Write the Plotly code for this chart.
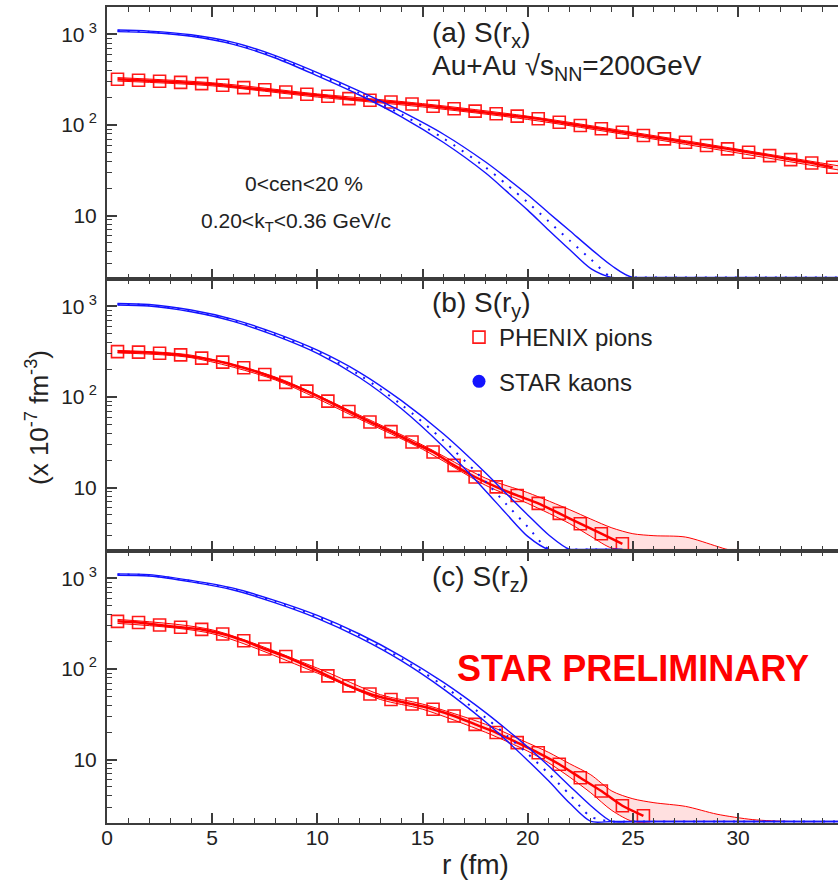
import numpy as np
import plotly.graph_objects as go

# ---------------------------------------------------------------- data
# radial bin centres (fm) of the pion source points
R_BINS = [0.5, 1.5, 2.5, 3.5, 4.5, 5.5, 6.5, 7.5, 8.5, 9.5, 10.5, 11.5, 12.5,
          13.5, 14.5, 15.5, 16.5, 17.5, 18.5, 19.5, 20.5, 21.5, 22.5, 23.5,
          24.5, 25.5, 26.5, 27.5, 28.5, 29.5, 30.5, 31.5, 32.5, 33.5, 34.5]

# PHENIX pions, S(r) in units of 1e-7 fm^-3
PION_A = [319, 311, 303, 295, 286, 274, 258, 245, 231, 218, 207, 195, 187,
          179, 170, 161, 151, 142, 133, 125, 117, 107, 98.6, 90.7, 83.2,
          76.5, 70.3, 64.5, 59.3, 54.5, 50.0, 45.9, 41.5, 38.1, 34.1]
PION_B = [316, 312, 304, 291, 268, 242, 210, 177, 145, 116, 90, 69, 53, 41.5,
          31.8, 24.7, 17.6, 13.1, 10.2, 8.2, 6.7, 5.2, 4.0, 3.1, 2.4]
PION_C = [335, 325, 305, 288, 273, 243, 205, 166, 137, 108, 84, 65, 53, 46,
          41, 36, 30.3, 24.5, 19.9, 15.4, 11.9, 8.9, 6.3, 4.5, 3.1, 2.4]

# pion error bands (lower / upper edge)
PB_A_R = [0.5, 5, 10, 15, 20, 25, 30, 34.75]
PB_A_LO = [305, 270, 203, 158, 115, 76, 49, 32]
PB_A_HI = [333, 292, 220, 172, 125, 83, 54, 35.5]

PB_B_R = [0.5, 4, 8, 12, 15, 18, 20, 22, 23, 24, 25, 26, 27.5, 29, 29.5, 30]
PB_B_LO = [306, 271, 154, 57, 26.5, 10.6, 6.7, 4.0, 2.9, 2.15, 1.6, 1.2, 0.8,
           0.5, 0.3, 0]
PB_B_HI = [326, 289, 166, 63, 29.5, 12.7, 8.8, 5.7, 4.5, 3.6, 3.1, 2.95, 2.85,
           2.25, 2.0, 1.5]

PB_C_R = [0.5, 5, 10, 13, 15, 18, 20, 21, 22, 23, 24, 25, 26, 27.5, 29, 30.7,
          32.5, 35]
PB_C_LO = [318, 245, 90, 46, 36, 20, 12.4, 9.2, 6.4, 4.3, 2.75, 1.8, 1.2, 0.8,
           0.5, 0.3, 0.2, 0]
PB_C_HI = [352, 270, 102, 52, 41, 24.5, 15.3, 12.0, 9.0, 6.8, 4.5, 3.7, 3.35,
           3.05, 2.5, 2.18, 2.0, 1.5]

# STAR kaons: central value and band edges
K_R_A = [0.5, 2, 4, 6, 8, 10, 12, 14, 16, 18, 19, 20, 21, 22, 23, 24, 25, 35]
K_A = [1094, 1066, 970, 794, 565, 362, 225, 131, 71, 34, 22, 14.0, 8.6, 5.3,
       3.3, 1.9, 1.1, 0]
K_A_LO = [1070, 1045, 950, 775, 548, 348, 214, 123, 64, 29.5, 18.5, 11.5, 6.9,
          4.2, 2.6, 1.5, 0.8, 0]
K_A_HI = [1115, 1085, 990, 815, 582, 378, 236, 141, 79, 39, 26, 17.0, 10.7,
          6.8, 4.3, 2.8, 1.7, 0]

K_R_B = [0.5, 2, 4, 6, 8, 10, 12, 14, 16, 18, 19, 20, 21, 22, 23, 24.5]
K_B = [1055, 1028, 890, 700, 490, 315, 175, 82, 33, 11.6, 6.5, 3.7, 2.1, 1.2,
       0.7, 0]
K_B_LO = [1035, 1008, 870, 682, 474, 302, 164, 74, 28, 9.2, 5.1, 2.9, 1.6,
          0.9, 0.5, 0]
K_B_HI = [1075, 1048, 910, 718, 506, 328, 187, 91, 39, 14.5, 8.5, 5.0, 3.0,
          1.8, 1.0, 0]

K_R_C = [0.5, 2, 4, 6, 8, 10, 12, 14, 16, 18, 19, 20, 21, 22, 23, 24, 25, 35]
K_C = [1100, 1078, 930, 760, 552, 375, 232, 130, 65, 29, 18.5, 11.6, 7.0, 4.1,
       2.35, 1.3, 0.7, 0]
K_C_LO = [1080, 1058, 912, 742, 536, 362, 222, 123, 60, 26, 16.2, 9.8, 5.8,
          3.3, 1.95, 1.0, 0.5, 0]
K_C_HI = [1120, 1098, 948, 778, 568, 390, 243, 138, 71, 33, 21.5, 13.8, 8.5,
          5.1, 3.1, 1.9, 1.1, 0]

Y_TICKS = [10, 100, 1000]
Y_TICKTEXT = ["10", "10<sup> 2</sup>", "10<sup> 3</sup>"]
X_TICKS = [0, 5, 10, 15, 20, 25, 30]

# ---------------------------------------------------------------- layout
W, H = 838, 881
ML, MR, MT, MB = 107, 0, 7, 58
Y_MIN, Y_MAX = 2.0, 2000.0
X_MAX = 34.75
FLOOR = Y_MIN * 1.04          # values that vanish are drawn along the axis

FONT = "Liberation Sans, Arial, Helvetica, sans-serif"
RED = "#ff0000"
BLUE = "#1414ff"
AXIS = "#3c3c3c"


def px_x(px):
    return (px - ML) / (W - ML - MR)


def px_y(py):
    return (H - MB - py) / (H - MT - MB)


def on_axis(vals):
    return [max(float(v), FLOOR) for v in vals]


panels = [
    dict(x="x", y="y", dom=[2 / 3, 1.0], pion=PION_A, pb=(PB_A_R, PB_A_LO, PB_A_HI),
         k=(K_R_A, K_A, K_A_LO, K_A_HI)),
    dict(x="x2", y="y2", dom=[1 / 3, 2 / 3], pion=PION_B, pb=(PB_B_R, PB_B_LO, PB_B_HI),
         k=(K_R_B, K_B, K_B_LO, K_B_HI)),
    dict(x="x3", y="y3", dom=[0.0, 1 / 3], pion=PION_C, pb=(PB_C_R, PB_C_LO, PB_C_HI),
         k=(K_R_C, K_C, K_C_LO, K_C_HI)),
]

fig = go.Figure()

for i, p in enumerate(panels):
    xa, ya = p["x"], p["y"]
    pr, plo, phi = p["pb"]
    # pion band
    fig.add_trace(go.Scatter(x=pr, y=on_axis(plo), xaxis=xa, yaxis=ya, mode="lines",
                             line=dict(color=RED, width=1, shape="spline", smoothing=0.8),
                             showlegend=False, hoverinfo="skip"))
    fig.add_trace(go.Scatter(x=pr, y=on_axis(phi), xaxis=xa, yaxis=ya, mode="lines",
                             fill="tonexty", fillcolor="rgba(255,0,0,0.12)",
                             line=dict(color=RED, width=1, shape="spline", smoothing=0.8),
                             showlegend=False, hoverinfo="skip"))
    # pion central curve and points
    n = len(p["pion"])
    fig.add_trace(go.Scatter(x=R_BINS[:n], y=p["pion"], xaxis=xa, yaxis=ya, mode="lines",
                             line=dict(color=RED, width=2.5, shape="spline", smoothing=0.6),
                             showlegend=False, hoverinfo="skip"))
    fig.add_trace(go.Scatter(x=R_BINS[:n], y=p["pion"], xaxis=xa, yaxis=ya, mode="markers",
                             marker=dict(symbol="square-open", size=12,
                                         color="rgba(255,0,0,0.9)",
                                         line=dict(width=1.6, color="rgba(255,0,0,0.9)")),
                             name="PHENIX pions", legendgroup="pi",
                             showlegend=(i == 1)))
    # kaon band and central curve
    kr, kc, klo, khi = p["k"]
    for edge in (klo, khi):
        fig.add_trace(go.Scatter(x=kr, y=on_axis(edge), xaxis=xa, yaxis=ya, mode="lines",
                                 line=dict(color=BLUE, width=1.4, shape="spline", smoothing=0.8),
                                 showlegend=False, hoverinfo="skip"))
    fig.add_trace(go.Scatter(x=kr, y=on_axis(kc), xaxis=xa, yaxis=ya, mode="lines",
                             line=dict(color=BLUE, width=2, dash="2px,8px",
                                       shape="spline", smoothing=0.8),
                             showlegend=False, hoverinfo="skip"))

# legend-only entry for the kaons
fig.add_trace(go.Scatter(x=[None], y=[None], xaxis="x2", yaxis="y2", mode="markers",
                         marker=dict(symbol="circle", size=13, color=BLUE),
                         name="STAR kaons", legendgroup="k"))

tickfont = dict(family=FONT, size=21, color="#222222")
minor_y = [2, 3, 4, 5, 6, 7, 8, 9, 20, 30, 40, 50, 60, 70, 80, 90,
           200, 300, 400, 500, 600, 700, 800, 900]

layout = dict(
    width=W, height=H,
    margin=dict(l=ML, r=MR, t=MT, b=MB, pad=0),
    paper_bgcolor="white", plot_bgcolor="white",
    font=dict(family=FONT, color="#222222"),
    showlegend=True,
    legend=dict(x=px_x(459), y=px_y(315), xanchor="left", yanchor="top",
                bgcolor="rgba(0,0,0,0)", tracegroupgap=10,
                font=dict(family=FONT, size=24, color="#222222")),
)

for i, p in enumerate(panels):
    xkey = "xaxis" if i == 0 else f"xaxis{i + 1}"
    ykey = "yaxis" if i == 0 else f"yaxis{i + 1}"
    layout[xkey] = dict(
        domain=[0, 1], anchor=p["y"], range=[0, X_MAX],
        tickvals=X_TICKS, ticks="inside", ticklen=10, tickwidth=1.5, tickcolor=AXIS,
        minor=dict(dtick=1, tick0=0, ticks="inside", ticklen=5, tickwidth=1.2,
                   tickcolor=AXIS, showgrid=False),
        showline=True, linewidth=2, linecolor=AXIS, mirror="ticks",
        showgrid=False, zeroline=False,
        showticklabels=(i == 2), tickfont=tickfont, ticklabelstandoff=-5,
    )
    if i != 2:
        layout[xkey]["matches"] = "x3"
    layout[ykey] = dict(
        domain=p["dom"], anchor=p["x"], type="log",
        range=[np.log10(Y_MIN), np.log10(Y_MAX)],
        tickvals=Y_TICKS, ticktext=Y_TICKTEXT,
        ticks="inside", ticklen=10, tickwidth=1.5, tickcolor=AXIS,
        minor=dict(tickvals=minor_y, ticks="inside", ticklen=5, tickwidth=1.2,
                   tickcolor=AXIS, showgrid=False),
        showline=True, linewidth=2, linecolor=AXIS, mirror=False,
        showgrid=False, zeroline=False, tickfont=tickfont, ticklabelstandoff=4,
    )

fig.update_layout(**layout)


def note(text, x, y, size, xanchor="left", color="#222222", bold=False, angle=0):
    fig.add_annotation(text=(f"<b>{text}</b>" if bold else text),
                       x=px_x(x), y=px_y(y), xref="paper", yref="paper",
                       xanchor=xanchor, yanchor="middle", showarrow=False,
                       textangle=angle,
                       font=dict(family=FONT, size=size, color=color))


note("(a) S(r<sub>x</sub>)", 430, 35, 28)
note("Au+Au \u221As<sub>NN</sub>=200GeV", 430, 68, 28)
note("(b) S(r<sub>y</sub>)", 430, 304, 28)
note("(c) S(r<sub>z</sub>)", 430, 578, 28)
note("0&lt;cen&lt;20 %", 304, 183, 21, xanchor="center")
note("0.20&lt;k<sub>T</sub>&lt;0.36 GeV/c", 296, 222, 21, xanchor="center")
note("STAR PRELIMINARY", 633, 668, 36, xanchor="center", color=RED, bold=True)
note("r (fm)", 475, 864, 28, xanchor="center")
note("(x 10<sup>-7</sup> fm<sup>-3</sup>)", 37, 418, 26, xanchor="center", angle=-90)

fig.write_html("out.html")
